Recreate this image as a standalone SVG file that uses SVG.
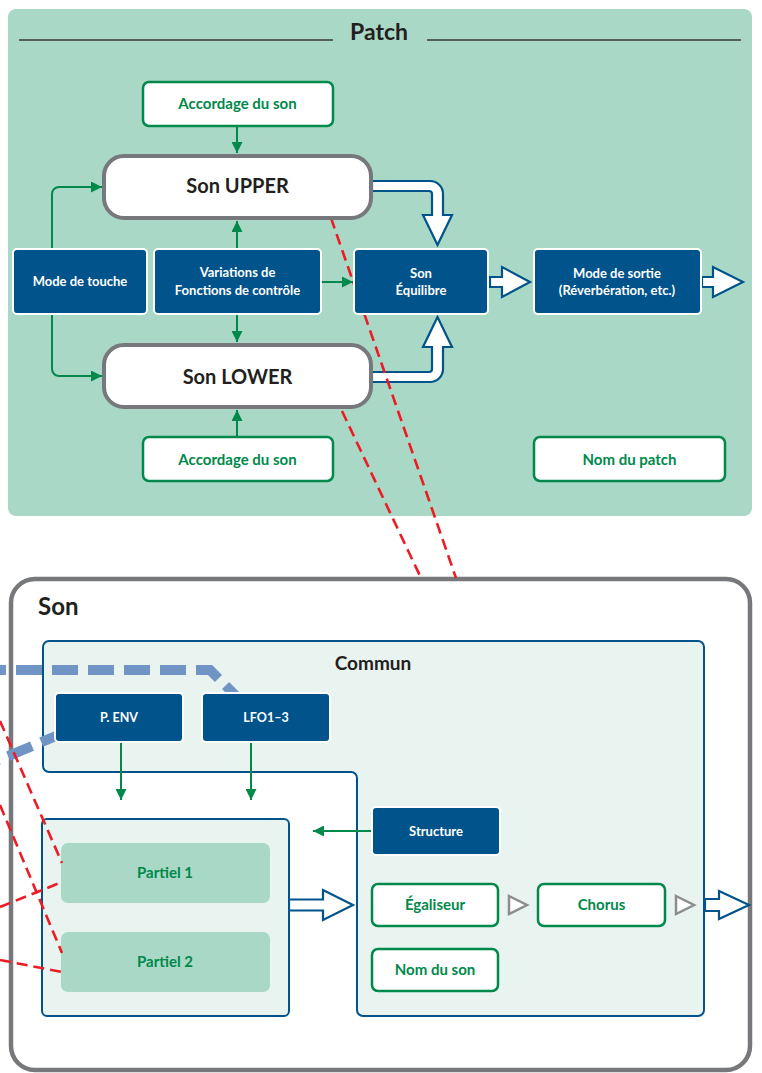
<svg xmlns="http://www.w3.org/2000/svg" width="762" height="1073" viewBox="0 0 762 1073">
<defs>
<style>
text{font-family:Lato,"Open Sans","Liberation Sans",sans-serif;font-weight:700;text-anchor:middle}
.dk{fill:#00538b;stroke:#ffffff;stroke-width:2}
.wt{fill:#ffffff;font-size:13px}
.gb{fill:#ffffff;stroke:#00894b;stroke-width:2.5}
.gt{fill:#00894b;font-size:15px}
.son{fill:#ffffff;stroke:#77787b;stroke-width:4}
.st{fill:#231f20;font-size:20px}
.hollow{fill:#ffffff;stroke:#00538b;stroke-width:2.2;stroke-linejoin:miter}
.gc{fill:none;stroke:#00894b;stroke-width:2;marker-end:url(#ga)}
.red{fill:none;stroke:#ed1c24;stroke-width:2.6;stroke-dasharray:11 6}
.bd{fill:none;stroke:#7094c3;stroke-width:10;stroke-dasharray:26 10}
.tri{fill:#ffffff;stroke:#8c8d8f;stroke-width:2.5}
</style>
<marker id="ga" viewBox="0 0 10 10" refX="10" refY="5" markerWidth="11" markerHeight="11" markerUnits="userSpaceOnUse" orient="auto">
<path d="M0,0 L10,5 L0,10 Z" fill="#00894b"/>
</marker>
</defs>

<!-- Patch panel -->
<g id="patch-panel">
<rect x="8" y="9" width="744" height="507" rx="8" fill="#a9d8c6"/>
<line x1="19" y1="40" x2="333" y2="40" stroke="#3a3a3a" stroke-width="1.4"/>
<line x1="427" y1="40" x2="741" y2="40" stroke="#3a3a3a" stroke-width="1.4"/>
<text x="379" y="40" style="font-size:23px;fill:#231f20">Patch</text>
</g>

<!-- Son panel -->
<g id="son-panel">
<rect x="11" y="579" width="739" height="491" rx="24" fill="#ffffff" stroke="#77787b" stroke-width="4.5"/>
<text x="38" y="615" style="font-size:24px;fill:#231f20;text-anchor:start">Son</text>
</g>

<g id="commun-panel">
<path d="M49,641 H698 A6,6 0 0 1 704,647 V1010 A6,6 0 0 1 698,1016 H363 A6,6 0 0 1 357,1010 V778 A6,6 0 0 0 351,772 H49 A6,6 0 0 1 43,766 V647 A6,6 0 0 1 49,641 Z" fill="#e9f3f0" stroke="#00538b" stroke-width="2"/>
<text x="373" y="670" style="font-size:19px;fill:#231f20">Commun</text>
</g>

<!-- blue dashed (behind boxes) -->
<g id="blue-dashed">
<path class="bd" d="M-20,670 H210 L250,710"/>
<path class="bd" d="M-25.2,769.9 L56,736"/>
</g>

<!-- connectors -->
<g id="connectors">
<path class="hollow" d="M372,181 H430 A13,13 0 0 1 443,194 V215 H452 L437.5,245 L423,215 H432 V194 A3,3 0 0 0 429,191 H372 Z"/>
<path class="hollow" d="M372,382 H430 A13,13 0 0 0 443,369 V347 H452 L437.5,317 L423,347 H432 V369 A3,3 0 0 1 429,372 H372 Z"/>
<path class="hollow" d="M490,277 H502 V267 L530,282 L502,297 V287 H490 Z"/>
<path class="hollow" d="M702,277 H713 V267 L743,282 L713,297 V287 H702 Z"/>
<path class="hollow" d="M289,899.5 H323 V890 L353,905 L323,920 V910.5 H289 Z"/>
<path class="hollow" d="M705,899 H719 V891 L749,905 L719,919 V911 H705 Z"/>
<polygon class="tri" points="509,896 527,905 509,914"/>
<polygon class="tri" points="676,896 694,905 676,914"/>
<path class="gc" d="M237,127 V153"/>
<path class="gc" d="M237,249 V221"/>
<path class="gc" d="M237,314 V342"/>
<path class="gc" d="M320,282 H353"/>
<path class="gc" d="M52,249 V194 A7,7 0 0 1 59,187 H102"/>
<path class="gc" d="M52,314 V369 A7,7 0 0 0 59,376 H102"/>
<path class="gc" d="M237,437 V410"/>
<path class="gc" d="M121,742 V800"/>
<path class="gc" d="M251,742 V800"/>
<path class="gc" d="M372,831 H313"/>
<path class="red" d="M331,218 L456,578"/>
<path class="red" d="M342,411 L421,578"/>
</g>

<!-- Patch nodes -->
<g id="accordage-upper">
<rect class="gb" x="143" y="82" width="190" height="44" rx="6"/>
<text class="gt" x="237.5" y="109">Accordage du son</text>
</g>
<g id="son-upper">
<rect class="son" x="104" y="156" width="267" height="62" rx="20"/>
<text class="st" x="237.5" y="193">Son UPPER</text>
</g>
<g id="mode-touche">
<rect class="dk" x="13" y="249" width="134" height="65" rx="4"/>
<text class="wt" x="80" y="286">Mode de touche</text>
</g>
<g id="variations">
<rect class="dk" x="154" y="249" width="167" height="65" rx="4"/>
<text class="wt" x="237.5" y="277">Variations de</text>
<text class="wt" x="237.5" y="295">Fonctions de contrôle</text>
</g>
<g id="son-equilibre">
<rect class="dk" x="354" y="249" width="134" height="65" rx="4"/>
<text class="wt" x="421" y="277.5">Son</text>
<text class="wt" x="421" y="295">Équilibre</text>
</g>
<g id="mode-sortie">
<rect class="dk" x="534" y="249" width="167" height="65" rx="4"/>
<text class="wt" x="617" y="277.5">Mode de sortie</text>
<text class="wt" x="617" y="295">(Réverbération, etc.)</text>
</g>
<g id="son-lower">
<rect class="son" x="104" y="345" width="267" height="62" rx="20"/>
<text class="st" x="237.5" y="384">Son LOWER</text>
</g>
<g id="accordage-lower">
<rect class="gb" x="143" y="437" width="190" height="44" rx="6"/>
<text class="gt" x="237.5" y="465">Accordage du son</text>
</g>
<g id="nom-patch">
<rect class="gb" x="534" y="437" width="191" height="44" rx="6"/>
<text class="gt" x="629.5" y="465">Nom du patch</text>
</g>

<!-- Son nodes -->
<g id="p-env">
<rect class="dk" x="55" y="693" width="128" height="49" rx="4"/>
<text class="wt" x="119" y="721.5" style="font-size:12.5px">P. ENV</text>
</g>
<g id="lfo">
<rect class="dk" x="202" y="693" width="128" height="49" rx="4"/>
<text class="wt" x="266" y="721.5" style="font-size:12.5px">LFO1–3</text>
</g>
<g id="partiels">
<rect x="42" y="819" width="247" height="197" rx="5" fill="#e9f3f0" stroke="#00538b" stroke-width="2"/>
</g>
<g id="partiel-1">
<rect x="61" y="843" width="209" height="60" rx="7" fill="#a9d8c6"/>
<text class="gt" x="165" y="878">Partiel 1</text>
</g>
<g id="partiel-2">
<rect x="61" y="932" width="209" height="60" rx="7" fill="#a9d8c6"/>
<text class="gt" x="165" y="967">Partiel 2</text>
</g>
<g id="structure">
<rect class="dk" x="372" y="807" width="128" height="48" rx="4"/>
<text class="wt" x="436" y="836">Structure</text>
</g>
<g id="egaliseur">
<rect class="gb" x="372" y="884" width="126" height="42" rx="6"/>
<text class="gt" x="435" y="910">Égaliseur</text>
</g>
<g id="chorus">
<rect class="gb" x="538" y="884" width="127" height="42" rx="6"/>
<text class="gt" x="601.5" y="910">Chorus</text>
</g>
<g id="nom-son">
<rect class="gb" x="372" y="949" width="126" height="42" rx="6"/>
<text class="gt" x="435" y="975">Nom du son</text>
</g>

<!-- red dashed overlay lines -->
<g id="red-links">
<path class="red" d="M0,721 L62,863"/>
<path class="red" d="M0,805 L62,953"/>
<path class="red" d="M0,907 L62,882"/>
<path class="red" d="M0,960 L62,972"/>
</g>
</svg>
